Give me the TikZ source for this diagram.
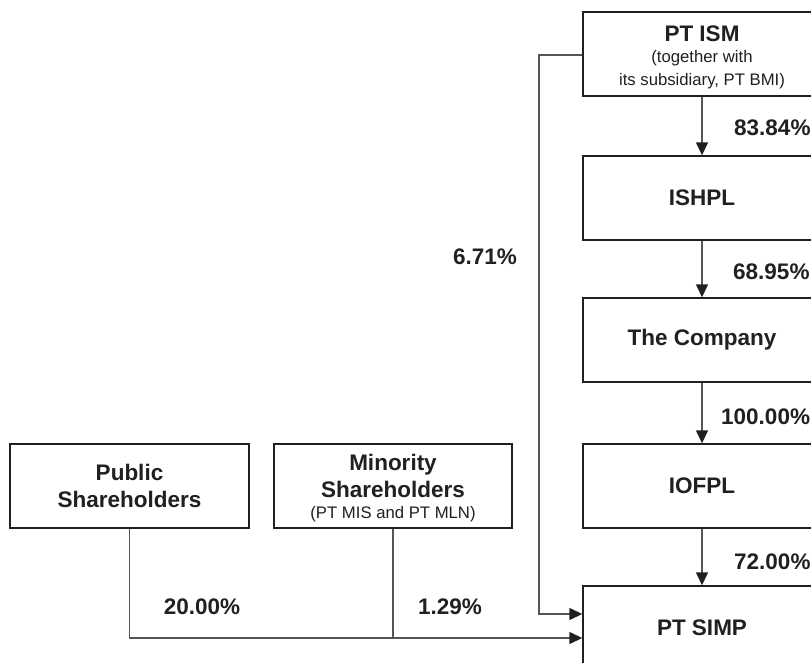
\documentclass[tikz,border=0pt]{standalone}
\usepackage{fontspec}
\setmainfont{Liberation Sans}
\usetikzlibrary{arrows.meta}
\definecolor{ink}{HTML}{231F20}
\definecolor{linec}{HTML}{555555}
\tikzset{
  box/.style={draw=ink, line width=1.4pt, minimum width=238pt, minimum height=84pt, inner sep=0pt, align=center, text=ink, font=\fontsize{22.5}{27}\selectfont\bfseries},
  conn/.style={draw=linec, line width=1.4pt},
  arr/.style={conn, -{Triangle[length=13pt,width=12pt,color=ink]}},
  pct/.style={text=ink, font=\fontsize{22.5}{27}\selectfont\bfseries, inner sep=0pt},
  boxtext/.style={text=ink, align=center, inner sep=0pt, font=\fontsize{22.5}{27}\selectfont\bfseries}
}
\newcommand{\smalltxt}[1]{{\fontsize{16.7}{21}\selectfont\mdseries #1}}
\begin{document}
\begin{tikzpicture}[x=1pt,y=-1pt]
\useasboundingbox (0,0) rectangle (811,662);
\clip (0,0) rectangle (811,662);
\fill[white] (0,0) rectangle (811,662);
\node[box] (ism) at (702,54) {};
\node[boxtext] (ismtxt) at (702,57) {PT ISM\\[-6pt]\smalltxt{(together with}\\[-4pt]\smalltxt{its subsidiary, PT BMI)}};
\node[box] (ishpl) at (702,198) {ISHPL};
\node[box] (comp) at (702,340) {The Company};
\node[box] (iofpl) at (702,486) {IOFPL};
\node[box] (simp) at (702,628) {PT SIMP};
\node[box, minimum width=239pt] (pub) at (129.5,486) {Public\\Shareholders};
\node[box] (mino) at (393,486) {};
\node[boxtext] (minotxt) at (393,488) {Minority\\[0pt]Shareholders\\[-6pt]\smalltxt{(PT MIS and PT MLN)}};
\draw[arr] (ism.south) -- (ishpl.north);
\draw[arr] (ishpl.south) -- (comp.north);
\draw[arr] (comp.south) -- (iofpl.north);
\draw[arr] (iofpl.south) -- (simp.north);
\coordinate (bend) at (539,55);
\draw[arr] (ism.west |- bend) -- (bend) |- ([yshift=14pt]simp.west);
\coordinate (bottom) at (129.5,638);
\draw[arr] (pub.south) -- (bottom) -- ([yshift=-10pt]simp.west);
\draw[conn] (mino.south) -- (mino.south |- bottom);
\node[pct, anchor=west] (p1) at (734,128) {83.84\%};
\node[pct, anchor=west] (p2) at (733,272) {68.95\%};
\node[pct, anchor=west] (p3) at (721,417) {100.00\%};
\node[pct, anchor=west] (p4) at (734,562) {72.00\%};
\node[pct] (p5) at (485,257) {6.71\%};
\node[pct] (p6) at (202,607) {20.00\%};
\node[pct] (p7) at (450,607) {1.29\%};
\end{tikzpicture}
\end{document}
